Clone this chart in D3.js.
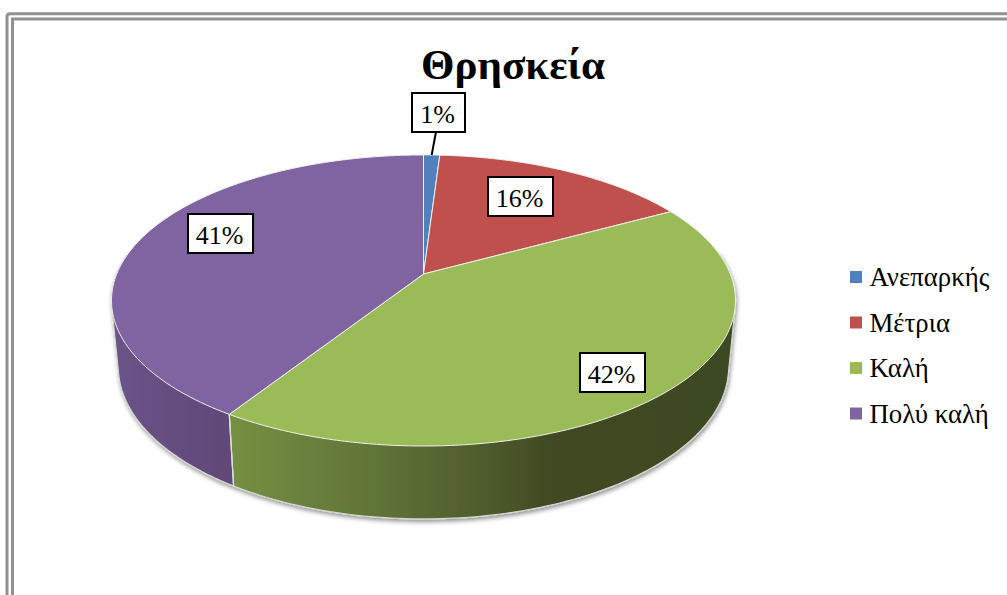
<!DOCTYPE html>
<html lang="el">
<head>
<meta charset="utf-8">
<title>Θρησκεία</title>
<script src="https://cdnjs.cloudflare.com/ajax/libs/d3/7.8.5/d3.min.js"></script>
<style>
html,body{margin:0;padding:0;background:#fff;overflow:hidden}
svg{display:block}
text{font-family:"Liberation Serif","Times New Roman",serif;fill:#000}
</style>
</head>
<body>
<script>
const chartTitle = "Θρησκεία";
const categories = ["Ανεπαρκής", "Μέτρια", "Καλή", "Πολύ καλή"];
const percentages = [1, 16, 42, 41];
const sliceColors = ["#4f81bd", "#c0504d", "#9bbb59", "#8064a2"];

const W = 1007, H = 595;
const svg = d3.select("body").append("svg").attr("width", W).attr("height", H);
const defs = svg.append("defs");

// Frame: double grey rule, open to the right and bottom
const frame = svg.append("g").attr("fill", "none").attr("stroke", "#919191").attr("stroke-width", 3);
frame.append("path").attr("d", `M7,${H} V17 Q7,13.8 10,13.8 H${W}`);
frame.append("path").attr("d", `M12.5,${H} V19 H${W}`);

// Perspective projection of a unit disc, for the top and the bottom of the pie
const persp = 0.182;
const topDisc = {cx: 423.5, cy: 274, ax: 306.8, ay: 140.7};
const lowDisc = {cx: 423.5, cy: 339.6, ax: 300, ay: 146.7};
function project(disc, angle, r = 1) {
  const X = r * Math.sin(angle), Y = -r * Math.cos(angle), w = 1 - persp * Y;
  return [disc.cx + disc.ax * X / w, disc.cy + disc.ay * Y / w];
}
const arcPoints = (disc, a0, a1) => d3.range(0, 121).map(i => project(disc, a0 + (a1 - a0) * i / 120));

const slices = d3.pie().sort(null).value(d => d)(percentages);
const line = d3.line();

// Side wall gradients
function gradient(id, x1, x2, stops) {
  const g = defs.append("linearGradient").attr("id", id)
    .attr("gradientUnits", "userSpaceOnUse").attr("x1", x1).attr("x2", x2).attr("y1", 0).attr("y2", 0);
  stops.forEach(([o, c]) => g.append("stop").attr("offset", o).attr("stop-color", c));
}
gradient("sidePurple", 113, 236, [[0, "#6c5389"], [1, "#5f4877"]]);
gradient("sideGreen", 232, 735, [[0, "#758f42"], [0.30, "#5f7237"], [0.50, "#4e5c2c"], [0.64, "#3f4a22"], [1, "#3e4921"]]);

const shadow = defs.append("filter").attr("id", "rimShadow")
  .attr("x", "-5%").attr("y", "-5%").attr("width", "110%").attr("height", "115%");
shadow.append("feDropShadow").attr("dx", 1).attr("dy", 2.5).attr("stdDeviation", 2)
  .attr("flood-color", "#000").attr("flood-opacity", 0.42);

// Side walls: hull of the front part of each slice's outline on both discs
const walls = svg.append("g").attr("filter", "url(#rimShadow)");
const wallSpans = [
  {fill: "url(#sideGreen)", from: Math.PI * 0.45, to: slices[2].endAngle},
  {fill: "url(#sidePurple)", from: slices[3].startAngle, to: Math.PI * 1.55}
];
wallSpans.forEach(w => {
  const outline = arcPoints(topDisc, w.from, w.to).concat(arcPoints(lowDisc, w.from, w.to));
  walls.append("path")
    .attr("d", line(d3.polygonHull(outline)) + "Z")
    .attr("fill", w.fill)
    .attr("stroke", "#d4d6d0")
    .attr("stroke-width", 1.2);
});
const sep = slices[2].endAngle;
svg.append("path")
  .attr("d", line([project(topDisc, sep), project(lowDisc, sep)]))
  .attr("stroke", "#dfe0dc").attr("stroke-width", 1.2).attr("fill", "none");

// Top faces
svg.append("g").selectAll("path").data(slices).join("path")
  .attr("d", s => line([project(topDisc, 0, 0), ...arcPoints(topDisc, s.startAngle, s.endAngle)]) + "Z")
  .attr("fill", (s, i) => sliceColors[i])
  .attr("stroke", "#eef0ea")
  .attr("stroke-width", 1)
  .attr("stroke-linejoin", "round");

// Title
svg.append("text").attr("x", 513).attr("y", 79).attr("text-anchor", "middle")
  .attr("font-size", 43).attr("font-weight", "bold").text(chartTitle);

// Data labels, placed over the slices like the original
const labelCentres = [[438.5, 112.5], [520.5, 196.5], [612.5, 372.5], [220.5, 233.5]];
const labelSize = [[53, 39], [65, 39], [65, 39], [65, 39]];
const blueMid = (slices[0].startAngle + slices[0].endAngle) / 2;
const leaderEnd = project(topDisc, blueMid);
svg.append("path")
  .attr("d", line([[labelCentres[0][0] - 2.5, labelCentres[0][1] + labelSize[0][1] / 2], leaderEnd]))
  .attr("stroke", "#000").attr("stroke-width", 2).attr("fill", "none");
const labels = svg.append("g").selectAll("g").data(percentages).join("g")
  .attr("transform", (d, i) => `translate(${labelCentres[i]})`);
labels.append("rect")
  .attr("x", (d, i) => -labelSize[i][0] / 2).attr("y", (d, i) => -labelSize[i][1] / 2)
  .attr("width", (d, i) => labelSize[i][0]).attr("height", (d, i) => labelSize[i][1])
  .attr("fill", "#fff").attr("stroke", "#000").attr("stroke-width", 2);
labels.append("text").attr("text-anchor", "middle").attr("x", -1).attr("y", 10)
  .attr("font-size", 26).text(d => d + "%");

// Legend
const legendY = d3.scalePoint().domain(categories).range([277, 413.5]);
const legend = svg.append("g").selectAll("g").data(categories).join("g")
  .attr("transform", d => `translate(850,${legendY(d)})`);
legend.append("rect").attr("x", 0).attr("y", -6).attr("width", 12).attr("height", 12)
  .attr("fill", (d, i) => sliceColors[i]);
legend.append("text").attr("x", 19.5).attr("y", 9).attr("font-size", 26.8).text(d => d);
</script>
</body>
</html>
